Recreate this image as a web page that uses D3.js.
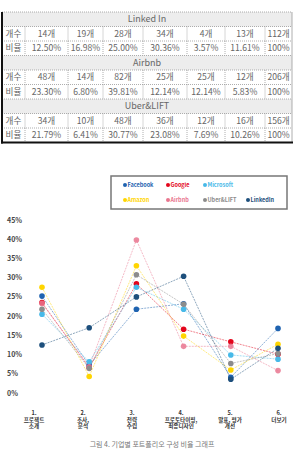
<!DOCTYPE html>
<html>
<head>
<meta charset="utf-8">
<script src="https://cdn.jsdelivr.net/npm/d3@7"></script>
<style>
  body { margin: 0; background: #fff; }
  svg { display: block; font-family: "Noto Sans CJK KR", "Noto Sans", sans-serif; }
</style>
</head>
<body>
<div id="chart"></div>
<script>
const width = 294;
const height = 449;

// table data
const companies = ['Linked In', 'Airbnb', 'Uber&LIFT'];
const counts = [
    ['14개', '19개', '28개', '34개', '4개', '13개', '112개'],
    ['48개', '14개', '82개', '25개', '25개', '12개', '206개'],
    ['34개', '10개', '48개', '36개', '12개', '16개', '156개']
];
const ratios = [
    ['12.50%', '16.98%', '25.00%', '30.36%', '3.57%', '11.61%', '100%'],
    ['23.30%', '6.80%', '39.81%', '12.14%', '12.14%', '5.83%', '100%'],
    ['21.79%', '6.41%', '30.77%', '23.08%', '7.69%', '10.26%', '100%']
];

// chart data
const categories = [
    ['1.', '프로젝트', '소개'],
    ['2.', '조사,', '분석'],
    ['3.', '전략', '수립'],
    ['4.', '프로토타이핑,', '최종디자인'],
    ['5.', '발표, 평가', '개선'],
    ['6.', '더보기']
];
const seriesNames = ['Facebook', 'Google', 'Microsoft', 'Amazon', 'Airbnb', 'Uber&LIFT', 'LinkedIn'];
const seriesColors = ['#1f63b0', '#e3051b', '#47b9e8', '#ffd500', '#e9768f', '#8c8c8c', '#1d4f7c'];
const facebook = [25.2, 7.2, 21.8, 23.2, 4.1, 16.8];
const google = [23.5, 6.6, 28.4, 16.6, 13.3, 10.1];
const microsoft = [20.5, 8.1, 27.5, 21.8, 9.9, 8.8];
const amazon = [27.5, 4.3, 33.1, 14.8, 6.0, 12.7];
const airbnb = [23.30, 6.80, 39.81, 12.14, 12.14, 5.83];
const uber = [21.79, 6.41, 30.77, 23.08, 7.69, 10.26];
const linkedin = [12.50, 16.98, 25.00, 30.36, 3.57, 11.61];
const seriesValues = [facebook, google, microsoft, amazon, airbnb, uber, linkedin];
const yTicks = [0, 5, 10, 15, 20, 25, 30, 35, 40, 45];

const svg = d3.select('#chart')
    .append('svg')
    .attr('width', width)
    .attr('height', height);

// ---- table ----
const colEdges = [2, 25, 68, 103, 143, 187, 225, 265, 292];
const tableTop = 12;
const rowH = 14.5;
const table = svg.append('g');

let rows = [];
companies.forEach((c, i) => {
    rows.push({ type: 'head', text: c });
    rows.push({ type: 'data', label: '개수', cells: counts[i] });
    rows.push({ type: 'data', label: '비율', cells: ratios[i] });
});

rows.forEach((r, i) => {
    const y = tableTop + i * rowH;
    if (r.type === 'head') {
        table.append('rect')
            .attr('x', colEdges[0]).attr('y', y)
            .attr('width', colEdges[8] - colEdges[0]).attr('height', rowH)
            .attr('fill', '#ededed');
        table.append('text')
            .attr('x', (colEdges[0] + colEdges[8]) / 2)
            .attr('y', y + rowH / 2 + 3.2)
            .attr('text-anchor', 'middle')
            .attr('font-size', 9)
            .attr('fill', '#666')
            .text(r.text);
    } else {
        const cells = [r.label].concat(r.cells);
        cells.forEach((t, j) => {
            table.append('text')
                .attr('x', (colEdges[j] + colEdges[j + 1]) / 2)
                .attr('y', y + rowH / 2 + 3.2)
                .attr('text-anchor', 'middle')
                .attr('font-size', 8.6)
                .attr('fill', '#666')
                .text(t);
        });
        for (let j = 1; j < 8; j++) {
            table.append('line')
                .attr('x1', colEdges[j]).attr('x2', colEdges[j])
                .attr('y1', y).attr('y2', y + rowH)
                .attr('stroke', '#999')
                .attr('stroke-width', 0.8)
                .attr('stroke-dasharray', '1,1');
        }
    }
    table.append('line')
        .attr('x1', colEdges[0]).attr('x2', colEdges[8])
        .attr('y1', y).attr('y2', y)
        .attr('stroke', '#999')
        .attr('stroke-width', 0.8)
        .attr('stroke-dasharray', '1,1');
});
const tableBottom = tableTop + rows.length * rowH;
table.append('line')
    .attr('x1', colEdges[8]).attr('x2', colEdges[8])
    .attr('y1', tableTop).attr('y2', tableBottom)
    .attr('stroke', '#999').attr('stroke-width', 0.8);
table.append('line')
    .attr('x1', colEdges[0]).attr('x2', colEdges[0])
    .attr('y1', tableTop).attr('y2', tableBottom + 1)
    .attr('stroke', '#111').attr('stroke-width', 2);
table.append('line')
    .attr('x1', colEdges[0] - 1).attr('x2', colEdges[8] + 1)
    .attr('y1', tableBottom).attr('y2', tableBottom)
    .attr('stroke', '#111').attr('stroke-width', 2);

// ---- chart ----
const xScale = d3.scalePoint()
    .domain(d3.range(categories.length))
    .range([42, 278]);

const yScale = d3.scaleLinear()
    .domain([0, 45])
    .range([393, 220]);

// y labels
svg.append('g')
    .selectAll('text')
    .data(yTicks)
    .join('text')
    .attr('x', 7)
    .attr('y', d => yScale(d) + 2.5)
    .attr('font-size', 7)
    .attr('font-weight', 'bold')
    .attr('fill', '#444')
    .text(d => d + '%');

// legend
const legend = svg.append('g');
legend.append('rect')
    .attr('x', 111).attr('y', 176)
    .attr('width', 176).attr('height', 33)
    .attr('fill', '#fff')
    .attr('stroke', '#777')
    .attr('stroke-width', 1.5);
const legendPos = [[123, 185], [166, 185], [203, 185], [123, 200], [166, 200], [203, 200], [246, 200]];
seriesNames.forEach((name, i) => {
    const g = legend.append('g')
        .attr('transform', `translate(${legendPos[i][0]}, ${legendPos[i][1]})`);
    g.append('circle')
        .attr('cx', 2).attr('cy', 0).attr('r', 2)
        .attr('fill', seriesColors[i]);
    g.append('text')
        .attr('x', 4.5).attr('y', 2)
        .attr('font-size', 5.5)
        .attr('font-weight', 'bold')
        .attr('fill', seriesColors[i])
        .text(name);
});

// lines + points
const line = d3.line()
    .x((d, i) => xScale(i))
    .y(d => yScale(d));

seriesValues.forEach((vals, k) => {
    svg.append('path')
        .datum(vals)
        .attr('d', line)
        .attr('fill', 'none')
        .attr('stroke', seriesColors[k])
        .attr('stroke-width', 1)
        .attr('stroke-opacity', 0.5)
        .attr('stroke-dasharray', '2,1');
});
seriesValues.forEach((vals, k) => {
    svg.append('g')
        .selectAll('circle')
        .data(vals)
        .join('circle')
        .attr('cx', (d, i) => xScale(i))
        .attr('cy', d => yScale(d))
        .attr('r', 2.8)
        .attr('fill', seriesColors[k])
        .attr('fill-opacity', k === 4 ? 0.85 : 1);
});

// x labels
const xLabels = svg.append('g');
categories.forEach((lines, i) => {
    const lx = xScale(i) - 8 + i * 1.8;
    lines.forEach((s, j) => {
        xLabels.append('text')
            .attr('x', lx)
            .attr('y', 415 + j * 6.6)
            .attr('text-anchor', 'middle')
            .attr('font-size', 5.6)
            .attr('font-weight', 'bold')
            .attr('fill', '#333')
            .text(s);
    });
});

// caption (reference crops it at the bottom edge)
svg.append('text')
    .attr('x', 152)
    .attr('y', 447)
    .attr('text-anchor', 'middle')
    .attr('font-size', 7)
    .attr('fill', '#777')
    .text('그림 4. 기업별 포트폴리오 구성 비율 그래프');
</script>
</body>
</html>
